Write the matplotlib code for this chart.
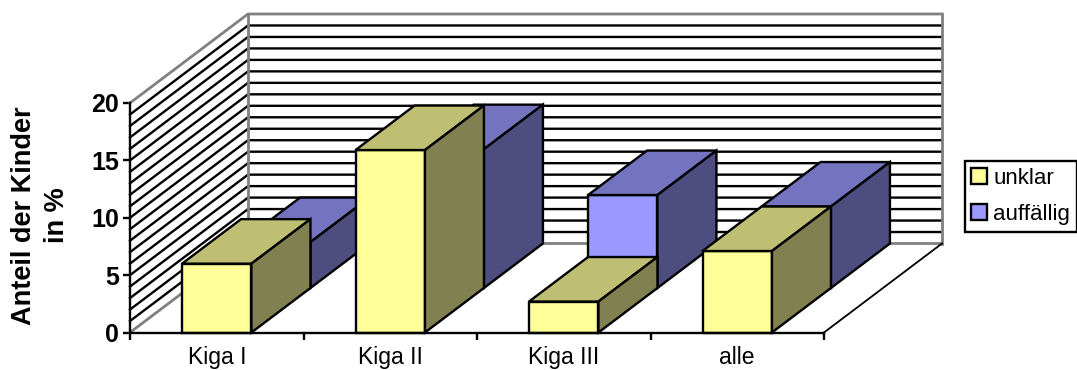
import matplotlib
matplotlib.use("Agg")
import matplotlib.pyplot as plt
from matplotlib.patches import Patch, Polygon

plt.rcParams["font.family"] = ["Liberation Sans", "DejaVu Sans"]

categories = ["Kiga I", "Kiga II", "Kiga III", "alle"]
unklar = [6.0, 15.9, 2.7, 7.1]
auffaellig = [4.0, 12.1, 8.1, 7.1]
value_ticks = [0, 5, 10, 15, 20]
grid_values = list(range(1, 20))

WIDTH, HEIGHT = 1077, 370
# oblique projection: one full depth step in category and value units
DEPTH_X = 118 / 173.5
DEPTH_Y = 89 / 11.475
BAR_WIDTH = 0.4
LW = 1.7
WALL_GREY = "#808080"


def project(x, value, depth):
    return x + depth * DEPTH_X, value + depth * DEPTH_Y


def draw_box(ax, center, value, depth0, depth1, front, top, side):
    x0, x1 = center - BAR_WIDTH / 2, center + BAR_WIDTH / 2
    faces = [
        ([(x0, 0, depth0), (x1, 0, depth0), (x1, value, depth0), (x0, value, depth0)], front),
        ([(x0, value, depth0), (x1, value, depth0), (x1, value, depth1), (x0, value, depth1)], top),
        ([(x1, 0, depth0), (x1, 0, depth1), (x1, value, depth1), (x1, value, depth0)], side),
    ]
    for corners, color in faces:
        pts = [project(*c) for c in corners]
        ax.add_patch(Polygon(pts, closed=True, facecolor=color, edgecolor="black",
                             linewidth=LW, joinstyle="miter", clip_on=False, zorder=4))


def draw_walls(ax):
    n = len(categories)
    for v in grid_values:
        xs, ys = zip(project(0, v, 0), project(0, v, 1), project(n, v, 1))
        ax.plot(xs, ys, color="black", lw=LW, clip_on=False, zorder=2)
    for v in (0, 20):
        xs, ys = zip(project(0, v, 0), project(0, v, 1), project(n, v, 1))
        ax.plot(xs, ys, color=WALL_GREY, lw=LW + 0.3, clip_on=False, zorder=3)
    for x in (0, n):
        xs, ys = zip(project(x, 0, 1), project(x, 20, 1))
        ax.plot(xs, ys, color=WALL_GREY, lw=LW + 0.3, clip_on=False, zorder=3)
    xs, ys = zip(project(n, 0, 0), project(n, 0, 1))
    ax.plot(xs, ys, color="black", lw=1.3, clip_on=False, zorder=3)


def main() -> None:
    fig = plt.figure(figsize=(WIDTH / 100, HEIGHT / 100), dpi=100)
    ax = fig.add_axes([130 / WIDTH, (HEIGHT - 332.5) / HEIGHT, 694 / WIDTH, 229.5 / HEIGHT])
    ax.set_xlim(0, len(categories))
    ax.set_ylim(0, 20)
    ax.patch.set_visible(False)
    for name in ("top", "right"):
        ax.spines[name].set_visible(False)
    for name in ("left", "bottom"):
        ax.spines[name].set_linewidth(LW)
        ax.spines[name].set_zorder(5)

    draw_walls(ax)

    # back row first so the front row sits over it
    for i, v in enumerate(auffaellig):
        draw_box(ax, i + 0.5, v, 0.5, 1.0, "#9999FF", "#7373BF", "#4D4D80")
    for i, v in enumerate(unklar):
        draw_box(ax, i + 0.5, v, 0.0, 0.5, "#FFFF99", "#BFBF73", "#808050")

    ax.set_yticks(value_ticks)
    ax.set_yticklabels([str(t) for t in value_ticks], fontsize=18, fontweight="bold")
    ax.tick_params(axis="y", length=5, width=LW, pad=3)
    ax.set_xticks(range(len(categories) + 1))
    ax.set_xticklabels([])
    ax.tick_params(axis="x", length=5, width=LW)
    ax.set_xticks([i + 0.5 for i in range(len(categories))], minor=True)
    ax.set_xticklabels(categories, minor=True, fontsize=16.5)
    ax.tick_params(axis="x", which="minor", length=0, pad=10)

    ax.set_ylabel("Anteil der Kinder\nin %", fontsize=19.5, fontweight="bold",
                  linespacing=1.35, multialignment="center")
    ax.yaxis.set_label_coords(-60 / 694, 0.51)

    handles = [
        Patch(facecolor="#FFFF99", edgecolor="black", linewidth=LW, label="unklar"),
        Patch(facecolor="#9999FF", edgecolor="black", linewidth=LW, label="auffällig"),
    ]
    legend = fig.legend(handles=handles, loc="upper right",
                        bbox_to_anchor=(1077 / WIDTH, (HEIGHT - 161) / HEIGHT),
                        fontsize=16, frameon=True, fancybox=False, framealpha=1,
                        edgecolor="black", handlelength=0.68, handleheight=0.68,
                        handletextpad=0.3, borderpad=0.31, labelspacing=0.67,
                        borderaxespad=0)
    legend.get_frame().set_linewidth(LW)

    fig.savefig("out.png", dpi=100, facecolor="white")
    plt.close(fig)


if __name__ == "__main__":
    main()
